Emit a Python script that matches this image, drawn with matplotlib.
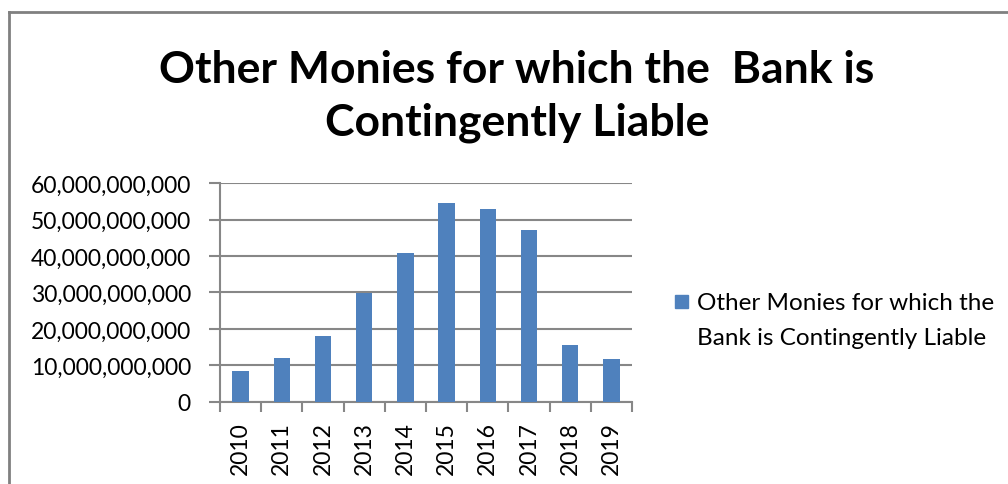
import matplotlib.pyplot as plt
from matplotlib.patches import Rectangle
from matplotlib.lines import Line2D
from matplotlib.ticker import FuncFormatter, MultipleLocator

# Other monies for which the bank is contingently liable, by year
years = ["2010", "2011", "2012", "2013", "2014", "2015", "2016", "2017", "2018", "2019"]
amounts = [8.5e9, 12.0e9, 18.1e9, 29.9e9, 40.7e9, 54.5e9, 52.9e9, 47.0e9, 15.5e9, 11.9e9]
series_name = "Other Monies for which the\nBank is Contingently Liable"
title = "Other Monies for which the  Bank is\nContingently Liable"

bar_color = "#4F81BD"
grid_color = "#878787"
plt.rcParams["font.family"] = ["Lato", "DejaVu Sans"]

fig = plt.figure(figsize=(10.08, 4.85), dpi=100)
ax = fig.add_axes([0.2183, 0.1691, 0.4087, 0.4515])

x = range(len(years))
ax.bar(x, amounts, width=0.4, color=bar_color, zorder=3)

ax.set_xlim(-0.5, len(years) - 0.5)
ax.set_ylim(0, 60e9)
ax.yaxis.set_major_locator(MultipleLocator(10e9))
ax.yaxis.set_major_formatter(FuncFormatter(lambda v, p: f"{v:,.0f}"))
ax.grid(axis="y", color=grid_color, linewidth=1.5, zorder=0)

# year labels centred on bars, tick marks between categories
ax.set_xticks(list(x))
ax.set_xticklabels(years, rotation=90, fontsize=16.5)
ax.set_xticks([i - 0.5 for i in range(len(years) + 1)], minor=True)
ax.tick_params(axis="x", which="major", length=0, pad=14)
ax.tick_params(axis="x", which="minor", length=7, width=1.5, color=grid_color)
ax.tick_params(axis="y", length=8, width=1.5, color=grid_color, labelsize=16.5, pad=13)

for side in ["top", "right"]:
    ax.spines[side].set_visible(False)
for side in ["left", "bottom"]:
    ax.spines[side].set_color(grid_color)
    ax.spines[side].set_linewidth(1.5)

fig.text(0.513, 0.801, title, ha="center", va="center", fontsize=32,
         fontweight="bold", linespacing=1.4)

# legend drawn by hand so the swatch sits beside the first line
fig.patches.append(Rectangle((675 / 1008, 1 - 309 / 485), 13 / 1008, 13 / 485,
                             transform=fig.transFigure, color=bar_color))
fig.text(697 / 1008, 1 - 293 / 485, series_name, ha="left", va="top",
         fontsize=17.5, linespacing=1.8)

# chart frame, left and top edges
fig.add_artist(Line2D([9 / 1008, 9 / 1008], [0, 1 - 13 / 485],
                      transform=fig.transFigure, color="#808080", linewidth=2))
fig.add_artist(Line2D([9 / 1008, 1], [1 - 13 / 485, 1 - 13 / 485],
                      transform=fig.transFigure, color="#808080", linewidth=2))

fig.savefig("out.png", dpi=100)
